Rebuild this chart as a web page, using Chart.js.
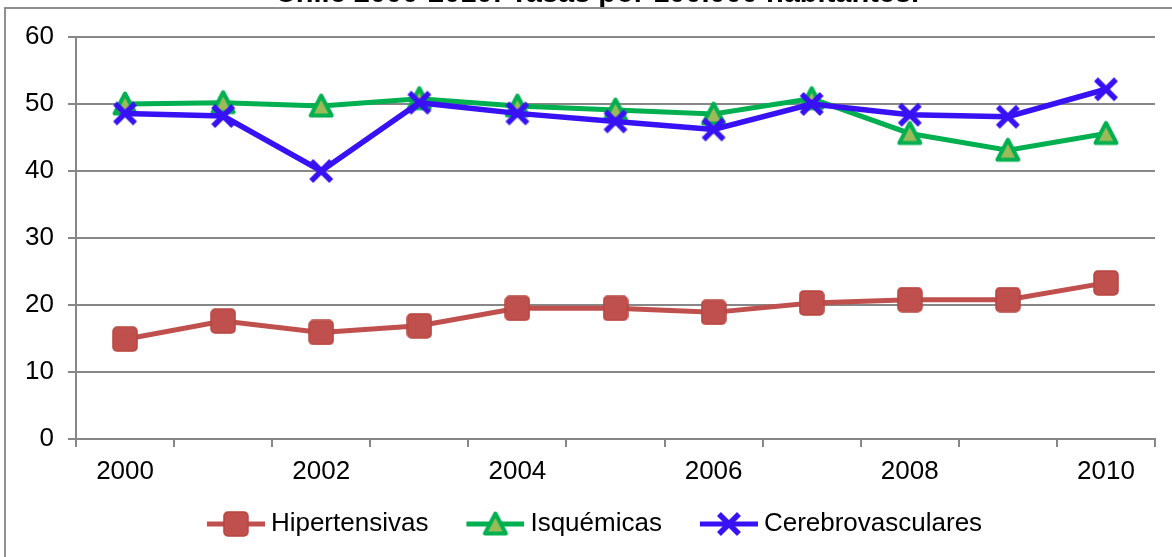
<!DOCTYPE html>
<html><head><meta charset="utf-8">
<script src="https://cdn.jsdelivr.net/npm/chart.js@4.4.0/dist/chart.umd.min.js"></script>
<style>html,body{margin:0;padding:0;background:#fff;overflow:hidden}#wrap{position:relative;width:1172px;height:557px}</style>
</head><body><div id="wrap"><canvas id="c" width="1172" height="557"></canvas></div>
<script>
const TITLE = "Chile 2000-2010: Tasas por 100.000 habitantes.";
const years = ["2000","2001","2002","2003","2004","2005","2006","2007","2008","2009","2010"];
const hipertensivas = [14.9,17.6,15.9,16.9,19.5,19.5,18.9,20.3,20.8,20.8,23.3];
const isquemicas = [50.0,50.2,49.7,50.8,49.7,49.1,48.5,50.8,45.6,43.1,45.6];
const cerebrovasculares = [48.6,48.2,40.0,50.2,48.6,47.4,46.2,50.0,48.4,48.1,52.2];
const seriesNames = ["Hipertensivas","Isquémicas","Cerebrovasculares"];
const yMin = 0, yMax = 60, yStep = 10;

const RED = '#C0504D', GREEN = '#00B050', OLIVE = '#9BBB59', BLUE = '#3812F4', GRID = '#878787';
const FONT = 'Liberation Sans, Arial, sans-serif';

function mk(w,h,fn){const c=document.createElement('canvas');c.width=w;c.height=h;fn(c.getContext('2d'));return c;}
const mRed = mk(26,26,g=>{g.beginPath();g.roundRect(1,1,24,24,4);g.fillStyle=RED;g.fill();g.lineWidth=1.5;g.strokeStyle='#B7443F';g.stroke();});
const mGreen = mk(28,28,g=>{g.beginPath();g.moveTo(14,3.5);g.lineTo(24.5,23.5);g.lineTo(3.5,23.5);g.closePath();g.fillStyle=OLIVE;g.fill();g.lineJoin='round';g.lineWidth=4;g.strokeStyle=GREEN;g.stroke();});
const mBlue = mk(28,28,g=>{g.beginPath();g.moveTo(4,4);g.lineTo(24,24);g.moveTo(24,4);g.lineTo(4,24);g.lineWidth=5.5;g.strokeStyle=BLUE;g.stroke();});
// legend icon: transparent left margin, then line (58px) with marker in its middle
function legendIcon(color, m){return mk(83,28,g=>{g.beginPath();g.moveTo(25,14);g.lineTo(83,14);g.lineWidth=5;g.strokeStyle=color;g.stroke();g.drawImage(m,54-m.width/2,14-m.height/2);});}
const icons = [legendIcon(RED,mRed), legendIcon(GREEN,mGreen), legendIcon(BLUE,mBlue)];

const decor = {
  id:'decor',
  afterDraw(chart){
    const g = chart.ctx; g.save();
    g.font = 'bold 29px ' + FONT; g.fillStyle = '#000'; g.textAlign = 'center'; g.textBaseline = 'alphabetic';
    g.fillText(TITLE, 597, 2);
    g.strokeStyle = '#8f8f8f'; g.lineWidth = 2;
    g.beginPath(); g.moveTo(5,557); g.lineTo(5,8); g.lineTo(1172,8); g.stroke();
    g.restore();
  }
};

new Chart(document.getElementById('c'), {
  type: 'line',
  data: {
    labels: years,
    datasets: [
      {label: seriesNames[0], data: hipertensivas, borderColor: RED, backgroundColor: RED, borderWidth: 5, pointStyle: mRed, pointRadius: 10, order: 3},
      {label: seriesNames[1], data: isquemicas, borderColor: GREEN, backgroundColor: GREEN, borderWidth: 5, pointStyle: mGreen, pointRadius: 10, order: 2},
      {label: seriesNames[2], data: cerebrovasculares, borderColor: BLUE, backgroundColor: BLUE, borderWidth: 5.5, pointStyle: mBlue, pointRadius: 10, order: 1}
    ]
  },
  options: {
    responsive: false, animation: false, devicePixelRatio: 1,
    layout: {padding: {top: 37, left: 16, right: 17, bottom: 10}},
    plugins: {
      tooltip: {enabled: false},
      title: {display: false},
      legend: {
        position: 'bottom', align: 'center',
        labels: {
          usePointStyle: true, pointStyleWidth: 69, padding: 20, color: '#000',
          font: {family: FONT, size: 26},
          generateLabels: (chart) => chart.data.datasets.map((ds,i)=>({text: ds.label, pointStyle: icons[i], fillStyle: ds.borderColor, strokeStyle: ds.borderColor, lineWidth: 0, hidden: false, datasetIndex: i, fontColor: '#000'}))
        }
      }
    },
    scales: {
      x: {
        type: 'category', offset: true,
        grid: {display: true, drawOnChartArea: false, drawTicks: true, tickLength: 8, offset: true, color: GRID, lineWidth: 2},
        border: {color: GRID, width: 2},
        ticks: {autoSkip: false, maxRotation: 0, padding: 9, color: '#000', font: {family: FONT, size: 26},
          callback: (v, i) => (i % 2 === 0 ? years[i] : '')},
        afterFit: (s) => { s.height = 52; }
      },
      y: {
        min: yMin, max: yMax,
        grid: {color: GRID, lineWidth: 2, tickLength: 8},
        border: {color: GRID, width: 2},
        ticks: {stepSize: yStep, padding: 14, color: '#000', font: {family: FONT, size: 26}},
        afterFit: (s) => { s.width = 60; }
      }
    }
  },
  plugins: [decor]
});
</script></body></html>
